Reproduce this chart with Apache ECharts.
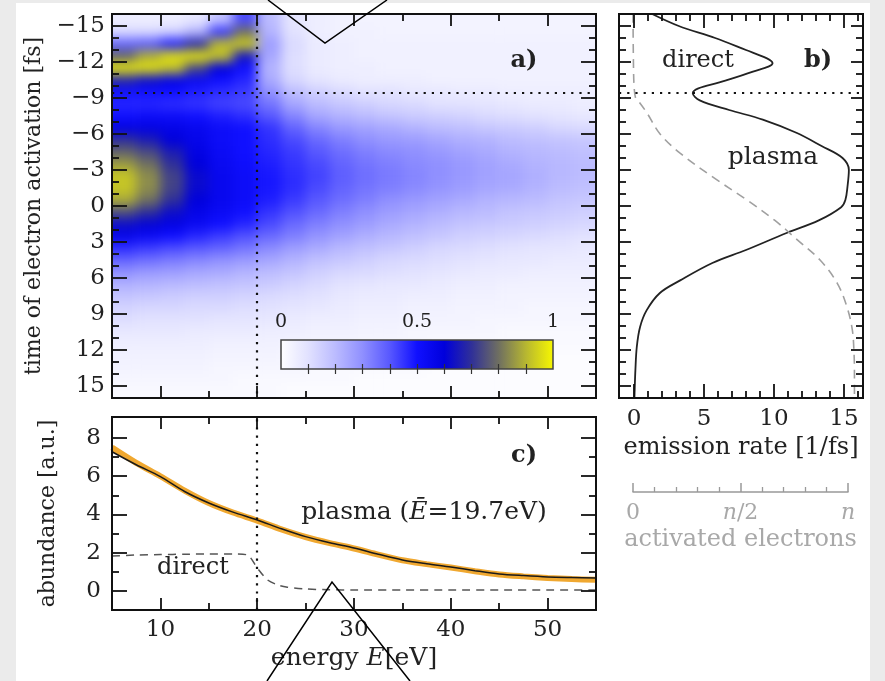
<!DOCTYPE html>
<html><head><meta charset="utf-8">
<script src="https://cdn.jsdelivr.net/npm/echarts@6/dist/echarts.min.js"></script>
<style>
html,body{margin:0;padding:0;background:#ebebeb;width:885px;height:681px;overflow:hidden}
#paper{position:absolute;left:16px;top:3px;width:854px;height:678px;background:#fff}
#heatClip{position:absolute;left:112px;top:14px;width:484px;height:384px;overflow:hidden}
#heat{position:absolute;left:-20px;top:-20px;width:524px;height:424px;filter:blur(6px)}
#main{position:absolute;left:0;top:0;width:885px;height:681px}
</style></head><body>
<div id="paper"></div>
<div id="heatClip"><div id="heat"></div></div>
<div id="main"></div>
<script>
// ---------- data ----------
const heatE = [6.25, 8.75, 11.25, 13.75, 16.25, 18.75, 21.25, 23.75, 26.25, 28.75, 31.25, 33.75, 36.25, 38.75, 41.25, 43.75, 46.25, 48.75, 51.25, 53.75];
const heatT = [-15.5, -14.5, -13.5, -12.5, -11.5, -10.5, -9.5, -8.5, -7.5, -6.5, -5.5, -4.5, -3.5, -2.5, -1.5, -0.5, 0.5, 1.5, 2.5, 3.5, 4.5, 5.5, 6.5, 7.5, 8.5, 9.5, 10.5, 11.5, 12.5, 13.5, 14.5, 15.5];
const heatValues = [
 [0.06,0.06,0.06,0.08,0.18,0.42,0.20,0.09,0.06,0.05,0.04,0.04,0.04,0.04,0.04,0.04,0.04,0.04,0.04,0.04],
 [0.12,0.12,0.14,0.22,0.45,0.80,0.22,0.10,0.06,0.05,0.05,0.04,0.04,0.04,0.04,0.04,0.04,0.04,0.04,0.04],
 [0.38,0.40,0.48,0.68,0.90,0.94,0.27,0.12,0.07,0.06,0.05,0.05,0.05,0.05,0.05,0.05,0.05,0.05,0.05,0.05],
 [0.78,0.88,0.96,0.98,0.92,0.65,0.25,0.11,0.07,0.06,0.05,0.05,0.05,0.05,0.05,0.05,0.05,0.05,0.05,0.05],
 [0.98,0.97,0.92,0.74,0.60,0.50,0.22,0.11,0.07,0.06,0.06,0.05,0.05,0.05,0.05,0.05,0.05,0.05,0.05,0.05],
 [0.68,0.63,0.58,0.54,0.50,0.47,0.24,0.13,0.09,0.07,0.06,0.06,0.06,0.05,0.05,0.05,0.05,0.05,0.05,0.05],
 [0.50,0.50,0.50,0.48,0.46,0.44,0.30,0.20,0.15,0.12,0.10,0.10,0.08,0.08,0.07,0.07,0.06,0.06,0.06,0.06],
 [0.47,0.47,0.46,0.45,0.43,0.42,0.35,0.25,0.20,0.17,0.15,0.13,0.12,0.10,0.10,0.09,0.08,0.07,0.07,0.06],
 [0.50,0.52,0.52,0.50,0.48,0.46,0.40,0.32,0.25,0.22,0.20,0.18,0.16,0.15,0.14,0.12,0.11,0.10,0.09,0.08],
 [0.58,0.58,0.57,0.55,0.52,0.50,0.45,0.38,0.32,0.28,0.26,0.24,0.22,0.20,0.19,0.17,0.16,0.15,0.13,0.12],
 [0.70,0.66,0.60,0.56,0.52,0.50,0.46,0.42,0.37,0.33,0.30,0.28,0.27,0.25,0.23,0.22,0.20,0.19,0.18,0.17],
 [0.78,0.74,0.66,0.58,0.53,0.50,0.47,0.44,0.40,0.36,0.33,0.31,0.30,0.28,0.26,0.24,0.22,0.21,0.20,0.19],
 [0.86,0.80,0.70,0.60,0.54,0.51,0.48,0.45,0.42,0.38,0.35,0.33,0.31,0.30,0.28,0.26,0.24,0.22,0.21,0.20],
 [0.92,0.84,0.73,0.62,0.55,0.52,0.49,0.46,0.43,0.39,0.36,0.34,0.32,0.30,0.28,0.26,0.25,0.23,0.21,0.20],
 [0.92,0.84,0.73,0.62,0.55,0.52,0.49,0.46,0.42,0.38,0.35,0.33,0.31,0.29,0.27,0.25,0.24,0.22,0.20,0.19],
 [0.88,0.80,0.70,0.60,0.55,0.52,0.48,0.44,0.40,0.36,0.33,0.30,0.28,0.26,0.24,0.22,0.21,0.20,0.18,0.17],
 [0.75,0.70,0.63,0.57,0.53,0.50,0.45,0.41,0.37,0.33,0.30,0.27,0.25,0.23,0.21,0.20,0.18,0.17,0.16,0.15],
 [0.63,0.61,0.58,0.54,0.50,0.47,0.42,0.37,0.33,0.30,0.27,0.24,0.22,0.20,0.18,0.17,0.16,0.15,0.14,0.13],
 [0.56,0.53,0.50,0.47,0.44,0.41,0.37,0.33,0.29,0.26,0.23,0.21,0.19,0.17,0.15,0.14,0.13,0.12,0.11,0.10],
 [0.46,0.44,0.42,0.40,0.38,0.35,0.31,0.27,0.24,0.21,0.19,0.17,0.15,0.13,0.12,0.11,0.10,0.09,0.09,0.08],
 [0.38,0.36,0.34,0.32,0.30,0.28,0.25,0.22,0.19,0.17,0.15,0.13,0.12,0.11,0.10,0.09,0.08,0.08,0.07,0.07],
 [0.30,0.28,0.27,0.25,0.24,0.22,0.20,0.18,0.15,0.13,0.12,0.11,0.10,0.09,0.08,0.07,0.07,0.06,0.06,0.06],
 [0.23,0.22,0.21,0.20,0.19,0.18,0.16,0.14,0.12,0.10,0.09,0.08,0.08,0.07,0.06,0.06,0.05,0.05,0.05,0.05],
 [0.18,0.17,0.16,0.15,0.15,0.14,0.12,0.11,0.10,0.08,0.07,0.07,0.06,0.06,0.05,0.05,0.04,0.04,0.04,0.04],
 [0.14,0.13,0.13,0.12,0.12,0.11,0.10,0.09,0.08,0.07,0.06,0.06,0.05,0.05,0.04,0.04,0.04,0.03,0.03,0.03],
 [0.11,0.10,0.10,0.10,0.09,0.09,0.08,0.07,0.06,0.06,0.05,0.05,0.04,0.04,0.04,0.03,0.03,0.03,0.03,0.03],
 [0.08,0.08,0.08,0.07,0.07,0.07,0.06,0.06,0.05,0.05,0.04,0.04,0.03,0.03,0.03,0.03,0.02,0.02,0.02,0.02],
 [0.06,0.06,0.06,0.06,0.05,0.05,0.05,0.04,0.04,0.04,0.03,0.03,0.03,0.02,0.02,0.02,0.02,0.02,0.02,0.02],
 [0.05,0.05,0.05,0.05,0.04,0.04,0.04,0.03,0.03,0.03,0.03,0.02,0.02,0.02,0.02,0.02,0.02,0.01,0.01,0.01],
 [0.04,0.04,0.04,0.04,0.03,0.03,0.03,0.03,0.02,0.02,0.02,0.02,0.02,0.01,0.01,0.01,0.01,0.01,0.01,0.01],
 [0.03,0.03,0.03,0.03,0.03,0.02,0.02,0.02,0.02,0.02,0.01,0.01,0.01,0.01,0.01,0.01,0.01,0.01,0.01,0.01],
 [0.02,0.02,0.02,0.02,0.02,0.02,0.02,0.01,0.01,0.01,0.01,0.01,0.01,0.01,0.01,0.01,0.01,0.01,0.01,0.01]
];
const cmap = ['#ffffff','#e2e2ff','#bcbcff','#9090ff','#5858ff','#1010ff','#0000dc','#303098','#707060','#b8b830','#f8f800'];

const emissionT    = [-16, -15, -14, -13, -12.3, -11.9, -11.2, -10.3, -9.8, -9.4, -8.8, -8, -7.2, -6.1, -5, -4, -3, -1.6, -0.5, 0.1, 1.2, 2.25, 3.67, 4.75, 6.2, 7.25, 8.7, 10.1, 11.75, 13.7, 15.3, 16];
const emissionRate = [1.3, 3.2, 5.8, 8.0, 9.5, 9.9, 8.5, 6.1, 4.6, 4.2, 4.7, 6.8, 9.2, 11.6, 13.4, 14.9, 15.35, 15.25, 15.1, 14.8, 13.2, 10.9, 8.0, 5.6, 3.3, 1.85, 0.9, 0.43, 0.2, 0.1, 0.05, 0.03];
const activatedT    = [-16, -12, -10, -9, -8.8, -7.75, -6, -4.4, -2.4, -0.5, 1.2, 2.8, 4.5, 6.4, 8.4, 10.3, 12.25, 14, 16];
const activatedFrac = [0, 0.002, 0.005, 0.012, 0.023, 0.065, 0.126, 0.219, 0.372, 0.53, 0.66, 0.763, 0.87, 0.949, 0.995, 1.02, 1.028, 1.03, 1.03];

const energyGrid  = [5, 7.5, 10, 12.5, 15, 17.5, 20, 22.5, 25, 27.5, 30, 32.5, 35, 37.5, 40, 42.5, 45, 47.5, 50, 52.5, 55];
const plasmaAbund = [7.28, 6.6, 5.98, 5.2, 4.6, 4.12, 3.71, 3.25, 2.84, 2.52, 2.25, 1.92, 1.62, 1.42, 1.25, 1.06, 0.89, 0.8, 0.73, 0.7, 0.68];
const plasmaBand  = [7.5, 6.7, 6.0, 5.25, 4.6, 4.1, 3.68, 3.22, 2.82, 2.5, 2.22, 1.9, 1.6, 1.4, 1.22, 1.03, 0.86, 0.76, 0.68, 0.62, 0.58];
const directE     = [5, 7.5, 10, 12.5, 15, 17.5, 19, 20, 21, 22, 23, 25, 27.5, 30, 35, 40, 45, 50, 55];
const directAbund = [1.82, 1.88, 1.9, 1.92, 1.93, 1.93, 1.88, 1.2, 0.6, 0.33, 0.2, 0.1, 0.06, 0.05, 0.05, 0.05, 0.05, 0.05, 0.05];

const cutEnergy = 20;
const cutTime = -9.4;

const energyTicksMajor = [10, 20, 30, 40, 50];
const energyTicksMinor = [15, 25, 35, 45];
const timeTicksMajor = [-15, -12, -9, -6, -3, 0, 3, 6, 9, 12, 15];
const timeTicksMinor = [-14, -13, -11, -10, -8, -7, -5, -4, -2, -1, 1, 2, 4, 5, 7, 8, 10, 11, 13, 14];
const rateTicksMajor = [0, 5, 10, 15];
const rateTicksMinor = [1, 2, 3, 4, 6, 7, 8, 9, 11, 12, 13, 14, 16];
const abundTicksMajor = [0, 2, 4, 6, 8];
const abundTicksMinor = [1, 3, 5, 7];
const cbarTicks = [0.1, 0.2, 0.3, 0.4, 0.5, 0.6, 0.7, 0.8, 0.9];
const cbarLabels = [0, 0.5, 1];
const actTicksMajor = [0, 0.5, 1];
const actTicksMinor = [0.1, 0.2, 0.3, 0.4, 0.6, 0.7, 0.8, 0.9];

// ---------- heatmap layer ----------
const FONT = 'DejaVu Serif';
const INK = '#111';
const TXT = '#222';
const heatData = [];
heatT.forEach((t, i) => heatE.forEach((e, j) => heatData.push([e, t, heatValues[i][j]])));
const HW = 1.25, HH = 0.5, EXT = 24;
function renderHeat(params, api) {
  const e = api.value(0), t = api.value(1);
  const p0 = api.coord([e - HW, t - HH]);
  const p1 = api.coord([e + HW, t + HH]);
  let x0 = Math.min(p0[0], p1[0]), x1 = Math.max(p0[0], p1[0]);
  let y0 = Math.min(p0[1], p1[1]), y1 = Math.max(p0[1], p1[1]);
  if (e - HW <= 5) x0 -= EXT;
  if (e + HW >= 55) x1 += EXT;
  if (t - HH <= -16) y0 -= EXT;
  if (t + HH >= 16) y1 += EXT;
  return {type: 'rect', shape: {x: x0, y: y0, width: x1 - x0 + 0.6, height: y1 - y0 + 0.6},
          style: {fill: api.visual('color')}};
}
const heat = echarts.init(document.getElementById('heat'));
heat.setOption({
  animation: false,
  grid: {left: 20, top: 20, width: 484, height: 384},
  xAxis: {type: 'value', min: 5, max: 55, show: false},
  yAxis: {type: 'value', min: -16, max: 16, inverse: true, show: false},
  visualMap: {type: 'continuous', show: false, min: 0, max: 1, dimension: 2, seriesIndex: 0, inRange: {color: cmap}},
  series: [{type: 'custom', renderItem: renderHeat, data: heatData, clip: false}]
});

// ---------- main chart ----------
function ax(grid, pos, min, max, ticks, len, extra) {
  return Object.assign({
    type: 'value', gridIndex: grid, position: pos, min: min, max: max, z: 10,
    axisLine: {show: true, onZero: false, lineStyle: {color: INK, width: 2}},
    axisTick: {show: true, inside: true, length: len, customValues: ticks, lineStyle: {color: INK, width: 1.8}},
    axisLabel: {show: false}, splitLine: {show: false}, minorTick: {show: false}
  }, extra || {});
}
const minus = v => (v < 0 ? '\u2212' + Math.abs(v) : String(v));
const lab = (vals, fmt, margin, size, color) => ({show: true, customValues: vals, formatter: fmt, margin: margin,
  fontFamily: FONT, fontSize: size, color: color || TXT});
const nameStyle = (size, color) => ({fontFamily: FONT, fontSize: size, color: color || TXT,
  rich: {i: {fontFamily: FONT, fontSize: size, fontStyle: 'italic', color: color || TXT}}});

const E0 = 5, E1 = 55, T0 = -16, T1 = 16, R0 = -1.07, R1 = 16.36, F0 = -0.0651, F1 = 1.0698, A0 = -1, A1 = 9.1;

const xAxes = [
  ax(0, 'bottom', E0, E1, energyTicksMajor, 12),
  ax(0, 'bottom', E0, E1, energyTicksMinor, 7),
  ax(0, 'top', E0, E1, energyTicksMajor, 12),
  ax(0, 'top', E0, E1, energyTicksMinor, 7),
  ax(1, 'bottom', R0, R1, rateTicksMajor, 14, {axisLabel: lab(rateTicksMajor, v => String(v), 10, 23),
     name: 'emission rate [1/fs]', nameLocation: 'middle', nameGap: 36, nameTextStyle: nameStyle(24)}),
  ax(1, 'bottom', R0, R1, rateTicksMinor, 7),
  ax(1, 'top', R0, R1, rateTicksMajor, 14),
  ax(1, 'top', R0, R1, rateTicksMinor, 7),
  {type: 'value', gridIndex: 1, min: F0, max: F1, show: false},
  ax(2, 'bottom', E0, E1, energyTicksMajor, 12, {axisLabel: lab(energyTicksMajor, v => String(v), 9, 23),
     name: 'energy {i|E}[eV]', nameLocation: 'middle', nameGap: 36, nameTextStyle: nameStyle(25)}),
  ax(2, 'bottom', E0, E1, energyTicksMinor, 7),
  ax(2, 'top', E0, E1, energyTicksMajor, 12),
  ax(2, 'top', E0, E1, energyTicksMinor, 7),
  ax(3, 'top', 0, 1, cbarTicks, 5, {axisLine: {show: false}, axisLabel: lab(cbarLabels, v => String(v), 8, 19),
     axisTick: {show: true, inside: true, length: 5, customValues: cbarTicks, lineStyle: {color: '#333', width: 1.2}}}),
  ax(3, 'bottom', 0, 1, cbarTicks, 5, {axisLine: {show: false},
     axisTick: {show: true, inside: true, length: 5, customValues: cbarTicks, lineStyle: {color: '#333', width: 1.2}}}),
  ax(4, 'bottom', 0, 1, actTicksMajor, 9, {
     axisLine: {show: true, onZero: false, lineStyle: {color: '#999', width: 1.5}},
     axisTick: {show: true, inside: true, length: 9, customValues: actTicksMajor, lineStyle: {color: '#999', width: 1.5}},
     axisLabel: Object.assign(lab(actTicksMajor, v => (v === 0 ? '0' : (v === 1 ? '{i|n}' : '{i|n}/2')), 10, 22, '#a8a8a8'),
        {rich: {i: {fontFamily: FONT, fontSize: 22, fontStyle: 'italic', color: '#a8a8a8'}}}),
     name: 'activated electrons', nameLocation: 'middle', nameGap: 36, nameTextStyle: nameStyle(24, '#a8a8a8')}),
  ax(4, 'bottom', 0, 1, actTicksMinor, 5, {
     axisLine: {show: false},
     axisTick: {show: true, inside: true, length: 5, customValues: actTicksMinor, lineStyle: {color: '#999', width: 1.3}}})
];
const yAxes = [
  ax(0, 'left', T0, T1, timeTicksMajor, 15, {inverse: true, axisLabel: lab(timeTicksMajor, minus, 7, 23),
     name: 'time of electron activation [fs]', nameLocation: 'middle', nameGap: 51, nameTextStyle: nameStyle(22)}),
  ax(0, 'left', T0, T1, timeTicksMinor, 7, {inverse: true}),
  ax(0, 'right', T0, T1, timeTicksMajor, 15, {inverse: true}),
  ax(0, 'right', T0, T1, timeTicksMinor, 7, {inverse: true}),
  ax(1, 'left', T0, T1, timeTicksMajor, 12, {inverse: true}),
  ax(1, 'left', T0, T1, timeTicksMinor, 7, {inverse: true}),
  ax(1, 'right', T0, T1, timeTicksMajor, 12, {inverse: true}),
  ax(1, 'right', T0, T1, timeTicksMinor, 7, {inverse: true}),
  ax(2, 'left', A0, A1, abundTicksMajor, 15, {axisLabel: lab(abundTicksMajor, v => String(v), 11, 23),
     name: 'abundance [a.u.]', nameLocation: 'middle', nameGap: 53, nameTextStyle: nameStyle(22)}),
  ax(2, 'left', A0, A1, abundTicksMinor, 7),
  ax(2, 'right', A0, A1, abundTicksMajor, 15),
  ax(2, 'right', A0, A1, abundTicksMinor, 7),
  {type: 'value', gridIndex: 3, min: 0, max: 1, show: false},
  {type: 'value', gridIndex: 4, min: 0, max: 1, show: false}
];

const dotted = {color: INK, type: [2.2, 6], width: 2.2};
function renderBar(params, api) {
  const p0 = api.coord([api.value(0), 0]);
  const p1 = api.coord([api.value(1), 1]);
  const stops = cmap.map((c, i) => ({offset: i / (cmap.length - 1), color: c}));
  return {type: 'rect', shape: {x: p0[0], y: Math.min(p0[1], p1[1]), width: p1[0] - p0[0], height: Math.abs(p1[1] - p0[1])},
    style: {fill: new echarts.graphic.LinearGradient(0, 0, 1, 0, stops), stroke: '#444', lineWidth: 1.5}};
}

const series = [
  {type: 'line', xAxisIndex: 0, yAxisIndex: 0, data: [], silent: true,
   markLine: {silent: true, symbol: 'none', label: {show: false}, lineStyle: dotted,
     data: [{xAxis: cutEnergy}, {yAxis: cutTime}]}},
  {type: 'line', xAxisIndex: 4, yAxisIndex: 4, data: emissionT.map((t, i) => [emissionRate[i], t]),
   smooth: 0.35, showSymbol: false, silent: true, lineStyle: {color: '#222', width: 1.8},
   markLine: {silent: true, symbol: 'none', label: {show: false}, lineStyle: dotted, data: [{yAxis: cutTime}]}},
  {type: 'line', xAxisIndex: 8, yAxisIndex: 4, data: activatedT.map((t, i) => [activatedFrac[i], t]),
   smooth: 0.35, showSymbol: false, silent: true, lineStyle: {color: '#a0a0a0', width: 1.6, type: [9, 6]}},
  {type: 'line', xAxisIndex: 9, yAxisIndex: 8, data: energyGrid.map((e, i) => [e, plasmaBand[i]]),
   smooth: 0.3, showSymbol: false, silent: true, lineStyle: {color: '#f0a830', width: 6}},
  {type: 'line', xAxisIndex: 9, yAxisIndex: 8, data: energyGrid.map((e, i) => [e, plasmaAbund[i]]),
   smooth: 0.3, showSymbol: false, silent: true, lineStyle: {color: '#1a1a1a', width: 1.5}},
  {type: 'line', xAxisIndex: 9, yAxisIndex: 8, data: directE.map((e, i) => [e, directAbund[i]]),
   smooth: 0.25, showSymbol: false, silent: true, lineStyle: {color: '#555', width: 1.5, type: [8, 6]},
   markLine: {silent: true, symbol: 'none', label: {show: false}, lineStyle: dotted, data: [{xAxis: cutEnergy}]}},
  {type: 'custom', xAxisIndex: 13, yAxisIndex: 12, data: [[0, 1]], renderItem: renderBar, silent: true, z: 1}
];

const txt = (x, y, text, size, weight, extra) => ({type: 'text', x: x, y: y, z: 100, silent: true,
  style: Object.assign({text: text, fontFamily: FONT, fontSize: size, fontWeight: weight || 'normal', fill: TXT,
    align: 'center', verticalAlign: 'middle'}, extra || {})});

const main = echarts.init(document.getElementById('main'));
main.setOption({
  animation: false,
  backgroundColor: 'transparent',
  textStyle: {fontFamily: FONT},
  grid: [
    {left: 112, top: 14, width: 484, height: 384},
    {left: 619, top: 14, width: 244, height: 384},
    {left: 112, top: 417, width: 484, height: 193},
    {left: 281, top: 340, width: 272, height: 29},
    {left: 633, top: 480, width: 215, height: 12}
  ],
  xAxis: xAxes,
  yAxis: yAxes,
  series: series,
  graphic: [
    txt(524, 61, 'a)', 24, 'bold'),
    txt(818, 61, 'b)', 24, 'bold'),
    txt(524, 456, 'c)', 24, 'bold'),
    txt(698, 61, 'direct', 24),
    txt(773, 157, 'plasma', 25),
    txt(193, 568, 'direct', 24),
    txt(424, 512, 'plasma ({i|\u0112}=19.7eV)', 25, 'normal',
        {rich: {i: {fontFamily: FONT, fontSize: 25, fontStyle: 'italic', fill: TXT}}}),
    {type: 'polyline', z: 100, silent: true, shape: {points: [[268, 0], [325, 43], [387, 0]]},
     style: {stroke: '#000', lineWidth: 1.5, fill: null}},
    {type: 'polyline', z: 100, silent: true, shape: {points: [[267, 681], [332, 582], [410, 681]]},
     style: {stroke: '#000', lineWidth: 1.5, fill: null}}
  ]
});
</script>
</body></html>
